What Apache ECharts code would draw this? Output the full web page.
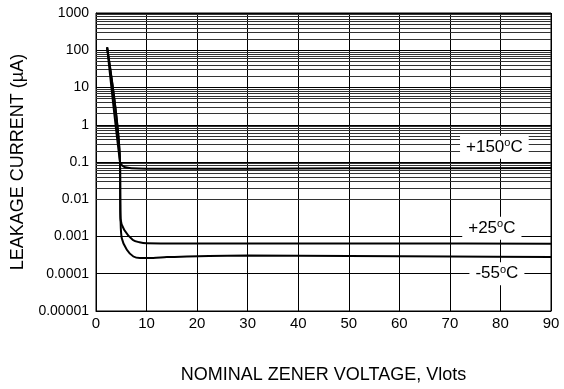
<!doctype html>
<html lang="en">
<head>
    <meta charset="UTF-8">
    <title>Leakage current vs nominal zener voltage</title>
    <script type="text/javascript" src="https://cdn.jsdelivr.net/npm/echarts@6/dist/echarts.min.js"></script>
    <style>
        html, body { margin: 0; padding: 0; background: #fff; }
        #chart { width: 564px; height: 389px; }
    </style>
</head>
<body>
<div id="chart"></div>
<script>
    // data (V, uA)
    var v150 = [2.2, 4.75, 5.2, 5.8, 7, 10, 20, 40, 60, 90];
    var i150 = [120, 0.1, 0.08, 0.072, 0.068, 0.066, 0.066, 0.067, 0.068, 0.069];
    var v25 = [2.2, 4.75, 4.8, 4.85, 5.6, 7.3, 8.6, 10, 20, 40, 60, 90];
    var i25 = [120, 0.1, 0.01, 0.003, 0.0015, 0.00081, 0.0007, 0.00066, 0.00065, 0.00065, 0.00065, 0.00064];
    var vm55 = [2.2, 4.75, 4.8, 4.85, 5.1, 6.1, 7.4, 8.7, 11.3, 14, 30, 50, 70, 90];
    var im55 = [120, 0.1, 0.01, 0.003, 0.0009, 0.00044, 0.00029, 0.000264, 0.000264, 0.00028, 0.00031, 0.0003, 0.00029, 0.00028];

    var xTicks = [0, 10, 20, 30, 40, 50, 60, 70, 80, 90];
    var yTickLabels = ['0.00001', '0.0001', '0.001', '0.01', '0.1', '1', '10', '100', '1000'];
    var tempNames = ['+150', '+25', '-55'];
    var tempPos = [[78.8, 0.25], [78.3, 0.00166], [79.3, 0.0001]];

    var chart = echarts.init(document.getElementById('chart'));

    function pairs(xs, ys) {
        return xs.map(function (x, i) { return [x, ys[i]]; });
    }

    // log grid lines 2..9 in each decade
    var minorLines = [];
    for (var d = -5; d < 3; d++) {
        for (var m = 2; m <= 9; m++) {
            minorLines.push({yAxis: Number((m * Math.pow(10, d)).toPrecision(2))});
        }
    }

    var lineStyle = {color: '#000', width: 2};
    var font = 'Liberation Sans, Arial, sans-serif';

    var tempMarks = tempNames.map(function (t, i) {
        return {
            coord: tempPos[i],
            label: {formatter: t + '{s|o}C'}
        };
    });

    chart.setOption({
        animation: false,
        grid: {left: 96, right: 13, top: 13, bottom: 76, show: true, borderColor: '#000', borderWidth: 1},
        xAxis: {
            type: 'value', min: 0, max: 90, interval: 10,
            name: 'NOMINAL ZENER VOLTAGE, Vlots', nameLocation: 'middle', nameGap: 55,
            nameTextStyle: {color: '#000', fontSize: 18, fontFamily: font},
            axisLine: {lineStyle: {color: '#000'}},
            axisTick: {show: false},
            axisLabel: {color: '#000', fontSize: 15, fontFamily: font, margin: 5,
                formatter: function (v) { return xTicks.indexOf(v) >= 0 ? String(v) : ''; }},
            splitLine: {lineStyle: {color: '#000', width: 1}}
        },
        yAxis: {
            type: 'log', logBase: 10, min: 0.00001, max: 1000,
            name: 'LEAKAGE CURRENT (µA)', nameLocation: 'middle', nameGap: 68,
            nameTextStyle: {color: '#000', fontSize: 18, fontFamily: font},
            axisLine: {lineStyle: {color: '#000'}},
            axisTick: {show: false},
            axisLabel: {color: '#000', fontSize: 14, fontFamily: font, margin: 7,
                formatter: function (v) {
                    var k = Math.round(Math.log(v) / Math.LN10) + 5;
                    return yTickLabels[k] || '';
                }},
            splitLine: {lineStyle: {color: '#000', width: 1}}
        },
        series: [
            {
                type: 'line', data: pairs(v150, i150), showSymbol: false, smooth: 0.3,
                lineStyle: lineStyle, z: 5,
                markLine: {
                    silent: true, symbol: 'none', label: {show: false},
                    lineStyle: {color: '#333', width: 1, type: 'solid'},
                    data: minorLines, z: 1
                },
                markPoint: {
                    symbol: 'rect', symbolSize: 1, itemStyle: {color: 'rgba(0,0,0,0)'},
                    label: {
                        show: true, position: 'inside', color: '#000', fontSize: 17, fontFamily: font,
                        backgroundColor: '#fff', padding: [2, 6],
                        rich: {s: {fontSize: 11, verticalAlign: 'top', fontFamily: font, color: '#000', padding: [0, 0, 8, 0]}}
                    },
                    data: tempMarks, z: 10
                }
            },
            {type: 'line', data: pairs(v25, i25), showSymbol: false, smooth: 0.3, lineStyle: lineStyle, z: 5},
            {type: 'line', data: pairs(vm55, im55), showSymbol: false, smooth: 0.3, lineStyle: lineStyle, z: 5}
        ]
    });
</script>
</body>
</html>
